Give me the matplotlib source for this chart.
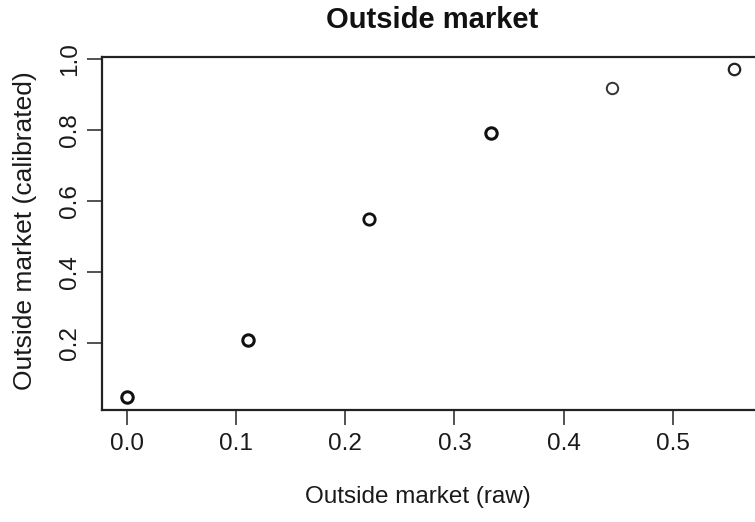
import matplotlib
matplotlib.use("Agg")
import matplotlib.pyplot as plt

plt.rcParams['font.family'] = ['Liberation Sans', 'DejaVu Sans']

raw = [0.0, 0.111, 0.222, 0.333, 0.444, 0.556]
calibrated = [0.049, 0.207, 0.549, 0.792, 0.918, 0.971]
edge_widths = [2.2, 2.2, 2.0, 2.2, 1.4, 1.6]
edge_colors = ['#111111', '#111111', '#111111', '#111111', '#333333', '#222222']
xticks = [0.0, 0.1, 0.2, 0.3, 0.4, 0.5]
yticks = [0.2, 0.4, 0.6, 0.8, 1.0]

W, H = 755, 522
fig = plt.figure(figsize=(W / 100, H / 100), dpi=100)
left, right, top, bottom = 102.4, 758.5, 57.0, 410.0
ax = fig.add_axes([left / W, 1 - bottom / H, (right - left) / W, (bottom - top) / H])

for xv, yv, lw, c in zip(raw, calibrated, edge_widths, edge_colors):
    ax.plot([xv], [yv], linestyle='none', marker='o', markersize=8.2,
            markerfacecolor='none', markeredgecolor=c, markeredgewidth=lw)

ax.set_xlim(-0.0222, 0.5782)
ax.set_ylim(0.011, 1.006)
ax.set_xticks(xticks)
ax.set_xticklabels([f"{v:.1f}" for v in xticks])
ax.set_yticks(yticks)
ax.set_yticklabels([f"{v:.1f}" for v in yticks], rotation=90, va='center')

for s in ax.spines.values():
    s.set_linewidth(1.6)
    s.set_color('#222222')
ax.tick_params(axis='both', length=10.5, width=1.3, color='#444444',
               labelsize=17.5, labelcolor='#1a1a1a')
ax.tick_params(axis='x', pad=6)
ax.tick_params(axis='y', pad=5)

fig.text(432 / W, 1 - 20 / H, 'Outside market', ha='center', va='center',
         fontsize=21, fontweight='bold', color='#111111')
fig.text(418 / W, 1 - 497 / H, 'Outside market (raw)', ha='center', va='center',
         fontsize=17.5, color='#1a1a1a')
fig.text(25 / W, 1 - 231 / H, 'Outside market (calibrated)', ha='center', va='center',
         fontsize=19, rotation=90, color='#1a1a1a')

fig.savefig('out.png', dpi=100)
